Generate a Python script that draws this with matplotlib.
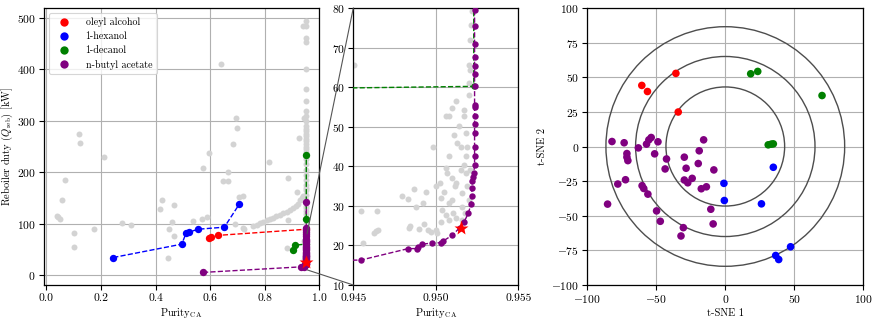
import numpy as np
import matplotlib
matplotlib.use("Agg")
import matplotlib.pyplot as plt
from matplotlib.lines import Line2D
from matplotlib.patches import ConnectionPatch, Circle

plt.rcParams['font.family'] = ['cmr10', 'DejaVu Serif']
plt.rcParams['mathtext.fontset'] = 'cm'
plt.rcParams['axes.formatter.use_mathtext'] = True
plt.rcParams['axes.unicode_minus'] = True

# ---------------- data ----------------
gray_x = [0.037, 0.043, 0.049, 0.058, 0.067, 0.119, 0.123, 0.100, 0.102, 0.175,
          0.211, 0.276, 0.309, 0.415, 0.422, 0.445, 0.450, 0.461, 0.467, 0.467,
          0.538, 0.570, 0.572, 0.588, 0.597, 0.638, 0.648, 0.667, 0.665, 0.683,
          0.696, 0.700, 0.692, 0.707, 0.720, 0.723, 0.817, 0.884, 0.885, 0.882,
          0.917, 0.926, 0.944, 0.941,
          0.721, 0.758, 0.770, 0.782, 0.795, 0.807, 0.819, 0.831, 0.843, 0.856,
          0.868, 0.880, 0.893, 0.905, 0.914, 0.923, 0.929, 0.936, 0.942,
          0.9522, 0.9522, 0.9522, 0.9522, 0.9522, 0.9522, 0.9522, 0.9522, 0.9522, 0.9522,
          0.9522, 0.9522, 0.9522, 0.9522, 0.9522, 0.9522, 0.9522, 0.9522, 0.9522, 0.9522,
          0.9522, 0.9522, 0.9522, 0.9522, 0.9522, 0.9522, 0.9522, 0.9522, 0.9522, 0.9522,
          0.9521, 0.9521, 0.9521, 0.9521, 0.9521, 0.9521, 0.9521, 0.9521,
          0.94506, 0.94546, 0.94556, 0.94625, 0.94637, 0.94651, 0.94646, 0.94793,
          0.94829, 0.94837, 0.94843, 0.9487, 0.9488, 0.94924, 0.9494, 0.94899,
          0.9493, 0.9495, 0.9497, 0.9498, 0.9500, 0.95026, 0.9504, 0.9505,
          0.9506, 0.9508, 0.95096, 0.9506, 0.95067, 0.9508, 0.95097, 0.9510,
          0.95105, 0.9511, 0.9512, 0.95125, 0.9514, 0.9515, 0.9515, 0.9516,
          0.9516, 0.9517, 0.9517, 0.9518, 0.9518, 0.95185, 0.9519, 0.9519,
          0.9520, 0.9520, 0.9520, 0.9521, 0.95216, 0.9521, 0.9521, 0.9520,
          0.95178, 0.95158, 0.95125, 0.9508, 0.9506, 0.9503, 0.9501, 0.9503,
          0.9500, 0.95116, 0.9508, 0.95127, 0.9517, 0.9522]
gray_y = [115, 113, 109, 146, 185, 275, 257, 81, 54, 90,
          229, 102, 97, 128, 146, 33, 89, 104, 76, 137,
          105, 109, 209, 112, 238, 410, 183, 183, 201, 254,
          306, 286, 100, 151, 154, 90, 220, 188, 107, 53,
          162, 266, 305, 484,
          91, 96, 98, 101, 104, 107, 109, 111, 114, 117,
          120, 123, 127, 130, 135, 139, 145, 149, 153,
          100, 110, 118, 125, 135, 145, 155, 165, 175, 185,
          195, 205, 215, 225, 240, 245, 250, 255, 260, 265,
          270, 275, 280, 285, 290, 300, 310, 320, 339, 361,
          400, 453, 461, 484, 495, 130, 170, 230,
          65.7, 28.6, 20.6, 23.1, 23.7, 23.9, 28.8, 32.5,
          31.7, 24.5, 24.8, 34.2, 29.6, 30.8, 33.6, 24.1,
          25.4, 23.9, 23.5, 45.0, 23.9, 35.7, 29.0, 33.6,
          52.6, 52.6, 54.7, 39.5, 38.3, 30.7, 37.0, 31.5,
          28.1, 48.0, 35.7, 56.4, 50.1, 45.0, 39.1, 33.2,
          29.8, 54.3, 52.6, 48.4, 42.5, 38.3, 34.9, 45.0,
          58.1, 65.7, 61.0, 72.0, 75.8, 64.4, 39.1, 31.5,
          28.1, 26.5, 26.9, 26.5, 27.7, 26.0, 23.1, 32.0,
          34.9, 34.9, 42.5, 45.8, 40.4, 79.2]

oleyl_x = [0.594, 0.604, 0.627, 0.9523]
oleyl_y = [72, 73, 77, 89]

hexanol_x = [0.245, 0.496, 0.512, 0.521, 0.555, 0.652, 0.707]
hexanol_y = [34, 60, 82, 83, 89, 93, 138]

decanol_x = [0.905, 0.911, 0.9523, 0.9523, 0.9523]
decanol_y = [48.6, 58, 60.2, 108, 233]

butyl_x = [0.574, 0.933, 0.94546, 0.94833, 0.94884, 0.9489, 0.94914, 0.94975,
           0.95029, 0.95041, 0.9510, 0.95146, 0.95172, 0.95197, 0.95213, 0.95217,
           0.95219, 0.95222, 0.95226, 0.9523, 0.95235, 0.95235, 0.95235, 0.95235,
           0.95235, 0.95235, 0.95235, 0.95235, 0.95235, 0.95235, 0.95235, 0.95235,
           0.95235, 0.95235, 0.95235, 0.95235, 0.95235, 0.95235, 0.95235]
butyl_y = [5, 15.8, 16.3, 19.2, 19.2, 19.5, 20.3, 20.6,
           20.7, 21.0, 22.6, 24.5, 26.0, 28.1, 30.4, 32.5,
           34.6, 36.2, 37.4, 38.3, 40.2, 42.5, 45.0, 48.4,
           50.7, 52.8, 55.1, 55.6, 60.4, 63.4, 65.4, 67.6,
           70.9, 75.4, 79.5, 83, 87, 91, 142.5]

star_x = [0.9515]
star_y = [24.5]

# t-SNE embedding
tsne_red_x = [-35.8, -60.5, -56.4, -34.1]
tsne_red_y = [52.8, 44.1, 39.7, 24.9]
tsne_green_x = [18.4, 23.5, 70.1, 31.1, 33.3, 34.8]
tsne_green_y = [52.5, 54.2, 36.8, 1.2, 1.7, 1.9]
tsne_blue_x = [34.8, -1.0, -0.7, 26.2, 47.3, 36.5, 38.7]
tsne_blue_y = [-15.0, -26.6, -39.0, -41.4, -72.4, -78.7, -81.6]
tsne_purple_x = [-82.1, -73.3, -63.0, -57.1, -55.4, -53.7, -48.8, -71.3, -71.3, -70.6,
                 -51.2, -42.6, -43.6, -29.7, -28.4, -18.9, -15.7, -19.6, -8.3, -72.3,
                 -77.9, -29.7, -27.2, -24.0, -60.3, -59.1, -56.1, -85.3, -17.4, -13.7,
                 -49.8, -47.1, -10.5, -8.8, -30.4, -32.1]
tsne_purple_y = [3.6, 2.7, -1.0, 1.7, 4.8, 6.5, 3.4, -5.1, -7.7, -10.2,
                 -5.3, -9.0, -16.2, -7.7, -15.7, -3.1, 4.8, -12.3, -16.9, -24.0,
                 -27.1, -24.2, -26.2, -23.0, -28.3, -30.3, -34.4, -41.6, -30.5, -29.1,
                 -46.5, -54.0, -45.3, -55.9, -58.6, -64.6]
circle_radii = [43, 65, 86.5]

labels = ['oleyl alcohol', '1-hexanol', '1-decanol', 'n-butyl acetate']
colors = ['red', 'blue', 'green', 'purple']

# ---------------- figure ----------------
fig = plt.figure(figsize=(8.76, 3.2), dpi=100)
ax1 = fig.add_axes([44/876, 1-285/320, (319.3-44)/876, 277/320])
ax2 = fig.add_axes([353.3/876, 1-285/320, (518.3-353.3)/876, 277/320])
ax3 = fig.add_axes([587.3/876, 1-285/320, (863.3-587.3)/876, 277/320])

gcol = '#b0b0b0'
for ax in (ax1, ax2, ax3):
    ax.grid(True, color=gcol, linewidth=0.8)
    ax.set_axisbelow(True)
    ax.tick_params(labelsize=8.3, direction='out', length=3.5, width=0.8, pad=2.5)
    for s in ax.spines.values():
        s.set_linewidth(0.9)

series = [(oleyl_x, oleyl_y), (hexanol_x, hexanol_y), (decanol_x, decanol_y), (butyl_x, butyl_y)]
for ax, ms_g, ms_c in ((ax1, 4.3, 5.3), (ax2, 4.3, 4.6)):
    ax.plot(gray_x, gray_y, 'o', color='lightgray', ms=ms_g, mec='none', zorder=2)
    for (xs, ys), c in zip(series, colors):
        ax.plot(xs, ys, '--', color=c, lw=1.0, zorder=3)
        ax.plot(xs, ys, 'o', color=c, ms=ms_c, mec='none', zorder=4)
    ax.plot(star_x, star_y, '*', color='red', ms=11 if ax is ax2 else 10, mec='none', zorder=5)

ax1.set_xlim(-0.009, 1.0)
ax1.set_ylim(-19.5, 519.5)
ax1.set_xticks([0.0, 0.2, 0.4, 0.6, 0.8, 1.0])
ax1.set_yticks([0, 100, 200, 300, 400, 500])
ax1.set_xticklabels(['0.0', '0.2', '0.4', '0.6', '0.8', '1.0'])
ax1.set_xlabel(r'Purity$_{\mathrm{CA}}$', fontsize=7.5, labelpad=2)
ax1.set_ylabel(r'Reboiler duty ($Q_{\mathrm{reb}}$) [kW]', fontsize=7.5, labelpad=1)

handles = [Line2D([], [], marker='o', ls='none', color=c, mec='none', ms=6) for c in colors]
leg = ax1.legend(handles, labels, loc='upper left', fontsize=7.2, frameon=True,
                 handletextpad=1.2, borderpad=0.45, labelspacing=0.45)
leg.get_frame().set_linewidth(0.8)

ax2.set_xlim(0.945, 0.955)
ax2.set_ylim(10, 80)
ax2.set_xticks([0.945, 0.950, 0.955])
ax2.set_xticklabels(['0.945', '0.950', '0.955'])
ax2.set_yticks([10, 20, 30, 40, 50, 60, 70, 80])
ax2.set_xlabel(r'Purity$_{\mathrm{CA}}$', fontsize=7.5, labelpad=2)

# zoom connectors
for yfrac, ydata in ((1, 80), (0, 10)):
    cp = ConnectionPatch(xyA=(0, yfrac), coordsA=ax2.transAxes,
                         xyB=(0.955, ydata), coordsB=ax1.transData,
                         color='#555555', lw=0.8, zorder=10)
    fig.add_artist(cp)

# t-SNE
for xs, ys, c in ((tsne_red_x, tsne_red_y, 'red'), (tsne_green_x, tsne_green_y, 'green'),
                  (tsne_blue_x, tsne_blue_y, 'blue'), (tsne_purple_x, tsne_purple_y, 'purple')):
    ax3.scatter(xs, ys, s=30, color=c, edgecolors='none', zorder=3)
for r in circle_radii:
    ax3.add_patch(Circle((0, 0), r, fill=False, ec='#4d4d4d', lw=1.0, zorder=2))
ax3.set_xlim(-100, 100)
ax3.set_ylim(-100, 100)
ax3.set_xticks([-100, -50, 0, 50, 100])
ax3.set_yticks([-100, -75, -50, -25, 0, 25, 50, 75, 100])
ax3.set_xlabel('t-SNE 1', fontsize=7.5, labelpad=2)
ax3.set_ylabel('t-SNE 2', fontsize=7.5, labelpad=3)

fig.savefig('out.png', dpi=100)
